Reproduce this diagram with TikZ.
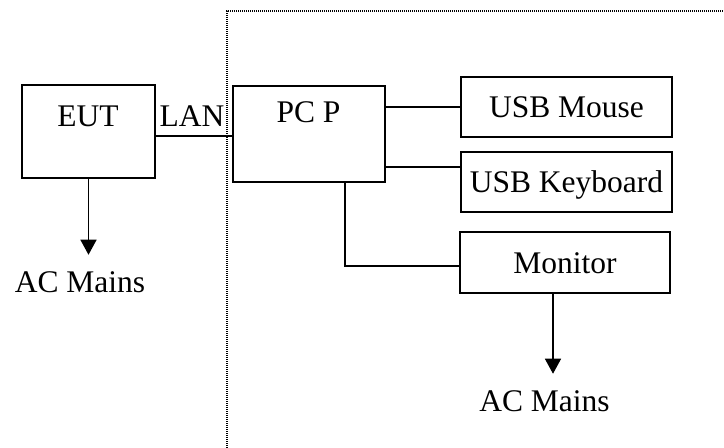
\documentclass[tikz,border=0pt]{standalone}
\usepackage{fontspec}
\setmainfont{Liberation Serif}
\usetikzlibrary{arrows.meta}
\begin{document}
\begin{tikzpicture}[x=0.5pt,y=-0.5pt,
  box/.style={draw,line width=0.75pt,inner sep=0pt,rectangle},
  txt/.style={inner sep=0pt,anchor=base,font=\fontsize{15.75pt}{18pt}\selectfont},
  mains/.style={txt,inner ysep=8.5pt},
  wire/.style={line width=0.7pt},
  arr/.style={line width=0.7pt,-{Triangle[width=8pt,length=7.5pt]}},
  border/.style={line width=0.6pt,dash pattern=on 0.5pt off 0.5pt}]
\useasboundingbox (0,0) rectangle (724,448);
% dotted enclosure
\coordinate (bl) at (227,448);
\coordinate (tl) at (227,11);
\coordinate (tr) at (724,11);
\draw[border] (bl) -- (tl) -- (tr);
% boxes
\node[box,minimum width=66.5pt,minimum height=46.5pt] (eut) at (88.5,131.5) {};
\node[box,minimum width=76pt,minimum height=48pt] (pc) at (309,134) {};
\node[box,minimum width=105.5pt,minimum height=30pt] (mouse) at (566.5,107) {};
\node[box,minimum width=105.5pt,minimum height=30pt] (kb) at (566.5,182) {};
\node[box,minimum width=105pt,minimum height=30.5pt] (mon) at (565,262.5) {};
% texts
\node[txt] (eutl) at (88,127) {EUT};
\node[txt] (lan) at (192,127) {LAN};
\node[txt] (pcl) at (308.5,123) {PC P};
\node[txt] (mousel) at (566.5,118) {USB Mouse};
\node[txt] (kbl) at (566.5,193) {USB Keyboard};
\node[txt] (monl) at (565,274) {Monitor};
\node[mains] (ac1) at (80,293) {AC Mains};
\node[mains] (ac2) at (544.5,412) {AC Mains};
% connectors
\coordinate (eutout) at ([yshift=-2.25pt]eut.east);
\draw[wire] (eutout) -- (eutout -| pc.west);
\draw[wire] (pc.east |- mouse.west) -- (mouse.west);
\coordinate (kbin) at ([yshift=7.5pt]kb.west);
\draw[wire] (kbin -| pc.east) -- (kbin);
\coordinate (pcout) at ([xshift=18pt]pc.south);
\coordinate (monin) at ([yshift=-1.75pt]mon.west);
\draw[wire] (pcout) |- (monin);
\draw[arr] (eut.south) -- (eut.south |- ac1.north);
\coordinate (monout) at ([xshift=-6pt]mon.south);
\draw[arr] (monout) -- (monout |- ac2.north);
\end{tikzpicture}
\end{document}
